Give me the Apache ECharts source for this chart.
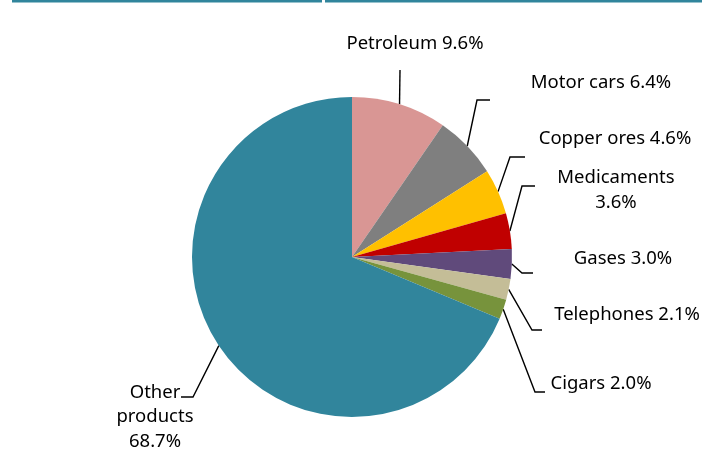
<!DOCTYPE html>
<html>
<head>
<meta charset="utf-8">
<script src="https://cdn.jsdelivr.net/npm/echarts@6/dist/echarts.min.js"></script>
<style>
  html, body { margin: 0; padding: 0; background: #fff; }
  #chart { width: 702px; height: 462px; }
</style>
</head>
<body>
<div id="chart"></div>
<script>
// Export shares by product (%)
const products = ['Petroleum', 'Motor cars', 'Copper ores', 'Medicaments', 'Gases', 'Telephones', 'Cigars', 'Other products'];
const shares = [9.6, 6.4, 4.6, 3.6, 3.0, 2.1, 2.0, 68.7];
const labelLines = ['Petroleum', 'Motor cars', 'Copper ores', 'Medicaments\n', 'Gases', 'Telephones', 'Cigars', 'Other\nproducts\n'];
const colors = ['#d99694', '#7f7f7f', '#ffc000', '#c00000', '#604a7b', '#c4bd97', '#77933c', '#31859c'];

// Callout placement: text centre, elbow and end of each leader line
const callouts = [
  { text: [415, 44],  elbow: [400, 70],  end: [400, 70] },
  { text: [601, 83],  elbow: [477, 100], end: [490, 100] },
  { text: [615, 139], elbow: [510, 157], end: [525, 157] },
  { text: [616, 190], elbow: [522, 186], end: [535, 186] },
  { text: [623, 259], elbow: [522, 273], end: [533, 273] },
  { text: [627, 315], elbow: [532, 330], end: [542, 330] },
  { text: [601, 384], elbow: [535, 392], end: [545, 392] },
  { text: [155, 417], elbow: [193, 397], end: [181, 397] }
];

const chart = echarts.init(document.getElementById('chart'), null, { renderer: 'canvas' });

const center = [352, 257];
const radius = 160;

chart.setOption({
  backgroundColor: '#ffffff',
  animation: false,
  graphic: [
    { type: 'rect', shape: { x: 12, y: 0, width: 310, height: 2.5 }, style: { fill: '#31859c' } },
    { type: 'rect', shape: { x: 325, y: 0, width: 377, height: 2.5 }, style: { fill: '#31859c' } }
  ],
  series: [{
    type: 'pie',
    center: center,
    radius: radius,
    startAngle: 90,
    clockwise: true,
    avoidLabelOverlap: false,
    data: products.map((p, i) => ({ name: p, value: shares[i], itemStyle: { color: colors[i] } })),
    itemStyle: { borderWidth: 0 },
    label: {
      show: true,
      position: 'outside',
      fontFamily: '"Noto Sans", Lato, sans-serif',
      fontSize: 18.5,
      lineHeight: 24.5,
      color: '#000',
      align: 'center',
      formatter: p => {
        const t = labelLines[p.dataIndex];
        const pct = p.value.toFixed(1) + '%';
        return t.endsWith('\n') ? t + pct : t + ' ' + pct;
      }
    },
    labelLine: {
      show: true,
      length: 20,
      length2: 10,
      lineStyle: { color: '#000', width: 1.4 }
    },
    labelLayout: params => {
      const c = callouts[params.dataIndex];
      const pts = params.labelLinePoints;
      const anchor = (pts && pts[0]) ? pts[0] : c.elbow;
      return {
        x: c.text[0],
        y: c.text[1],
        align: 'center',
        verticalAlign: 'middle',
        labelLinePoints: [anchor, c.elbow, c.end]
      };
    }
  }]
});
</script>
</body>
</html>
